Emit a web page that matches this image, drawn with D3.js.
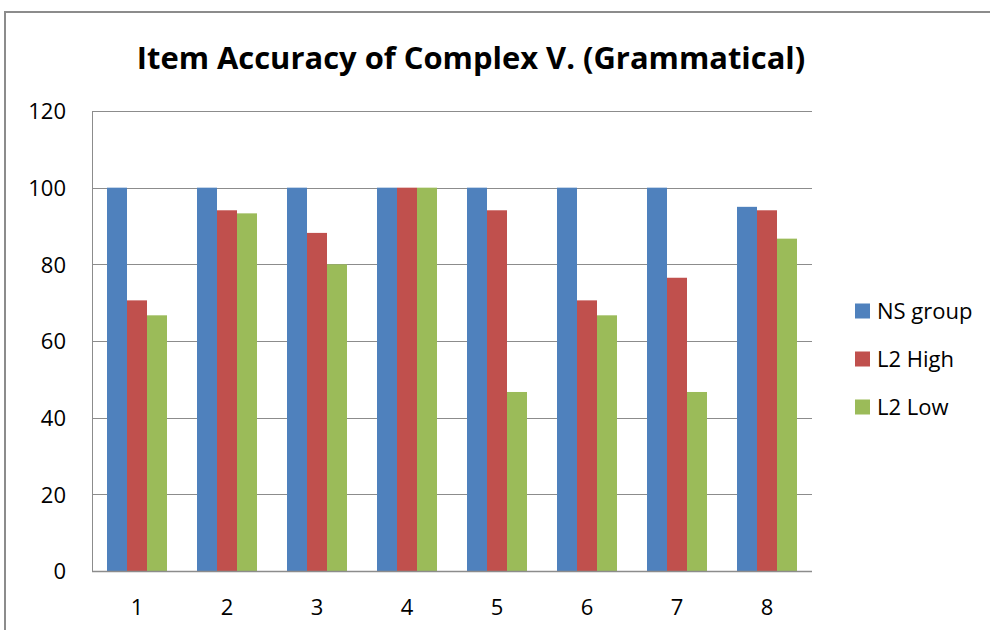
<!DOCTYPE html>
<html>
<head>
<meta charset="utf-8">
<script src="https://cdn.jsdelivr.net/npm/d3@7"></script>
<style>
    body { margin: 0; background: #fff; }
    svg text { font-family: "Open Sans", "Noto Sans", sans-serif; fill: #000; }
</style>
</head>
<body>
<div id="chart"></div>
<script>
const items = ['1', '2', '3', '4', '5', '6', '7', '8'];
const seriesNames = ['NS group', 'L2 High', 'L2 Low'];
const nsGroup = [100, 100, 100, 100, 100, 100, 100, 95];
const l2High = [70.6, 94.1, 88.2, 100, 94.1, 70.6, 76.5, 94.1];
const l2Low = [66.7, 93.3, 80, 100, 46.7, 66.7, 46.7, 86.7];
const yTicks = [0, 20, 40, 60, 80, 100, 120];
const colors = ['#4f81bd', '#c0504d', '#9bbb59'];

const width = 990, height = 630;
const margin = {top: 111, right: 178, bottom: 59, left: 92};

const svg = d3.select('#chart').append('svg')
    .attr('width', width)
    .attr('height', height);

// outer chart frame (only top and left edges visible in the crop)
svg.append('path')
    .attr('d', `M5,${height} V12 H${width}`)
    .attr('fill', 'none')
    .attr('stroke', '#8c8c8c')
    .attr('stroke-width', 2);

const innerW = width - margin.left - margin.right;
const innerH = height - margin.top - margin.bottom;

const x = d3.scaleBand()
    .domain(items)
    .range([0, innerW])
    .paddingInner(1 / 3)
    .paddingOuter(1 / 6);

const sub = d3.scaleBand()
    .domain(seriesNames)
    .range([0, x.bandwidth()]);

const y = d3.scaleLinear()
    .domain([0, 120])
    .range([innerH, 0]);

const plot = svg.append('g')
    .attr('transform', `translate(${margin.left},${margin.top})`);

// gridlines
plot.append('g')
    .selectAll('line')
    .data(yTicks)
    .join('line')
    .attr('x1', 0)
    .attr('x2', innerW)
    .attr('y1', d => Math.round(y(d)) + 0.5)
    .attr('y2', d => Math.round(y(d)) + 0.5)
    .attr('stroke', '#8c8c8c')
    .attr('stroke-width', 1);

const rows = items.map((it, i) => ({
    item: it,
    values: [nsGroup[i], l2High[i], l2Low[i]]
}));

const groups = plot.selectAll('.grp')
    .data(rows)
    .join('g')
    .attr('class', 'grp')
    .attr('transform', d => `translate(${x(d.item)},0)`);

groups.selectAll('rect')
    .data(d => d.values.map((v, j) => ({name: seriesNames[j], value: v, color: colors[j]})))
    .join('rect')
    .attr('x', d => sub(d.name))
    .attr('y', d => y(d.value))
    .attr('width', sub.bandwidth())
    .attr('height', d => innerH - y(d.value))
    .attr('fill', d => d.color);

// axes lines
plot.append('line')
    .attr('x1', 0.5).attr('x2', 0.5)
    .attr('y1', 0).attr('y2', innerH)
    .attr('stroke', '#8c8c8c');
plot.append('line')
    .attr('x1', 0).attr('x2', innerW)
    .attr('y1', innerH + 0.5).attr('y2', innerH + 0.5)
    .attr('stroke', '#8c8c8c')
    .attr('stroke-width', 1.5);

// y tick labels
const yAxis = d3.axisLeft(y).tickValues(yTicks).tickSize(0).tickPadding(26);
const yg = plot.append('g').call(yAxis);
yg.select('.domain').remove();
yg.selectAll('text')
    .style('font-size', '22px')
    .attr('dy', '0.36em');

// x tick labels
const xAxis = d3.axisBottom(x).tickSize(0).tickPadding(28);
const xg = plot.append('g')
    .attr('transform', `translate(0,${innerH})`)
    .call(xAxis);
xg.select('.domain').remove();
xg.selectAll('text').style('font-size', '22px');

// title
const title = svg.append('text')
    .attr('x', 471)
    .attr('y', 69)
    .attr('text-anchor', 'middle')
    .style('font-size', '30px')
    .style('font-weight', 'bold')
    .text('Item Accuracy of Complex V. (Grammatical)');
const tw = title.node().getComputedTextLength();
title.style('font-size', (30 * 669 / tw) + 'px');

// legend
const legend = svg.append('g')
    .attr('transform', 'translate(855,311)');
const li = legend.selectAll('g')
    .data(seriesNames)
    .join('g')
    .attr('transform', (d, i) => `translate(0,${i * 48})`);
li.append('rect')
    .attr('x', 0)
    .attr('y', -7.5)
    .attr('width', 15)
    .attr('height', 15)
    .attr('fill', (d, i) => colors[i]);
li.append('text')
    .attr('x', 22)
    .attr('dy', '0.36em')
    .style('font-size', '22px')
    .text(d => d);
</script>
</body>
</html>
